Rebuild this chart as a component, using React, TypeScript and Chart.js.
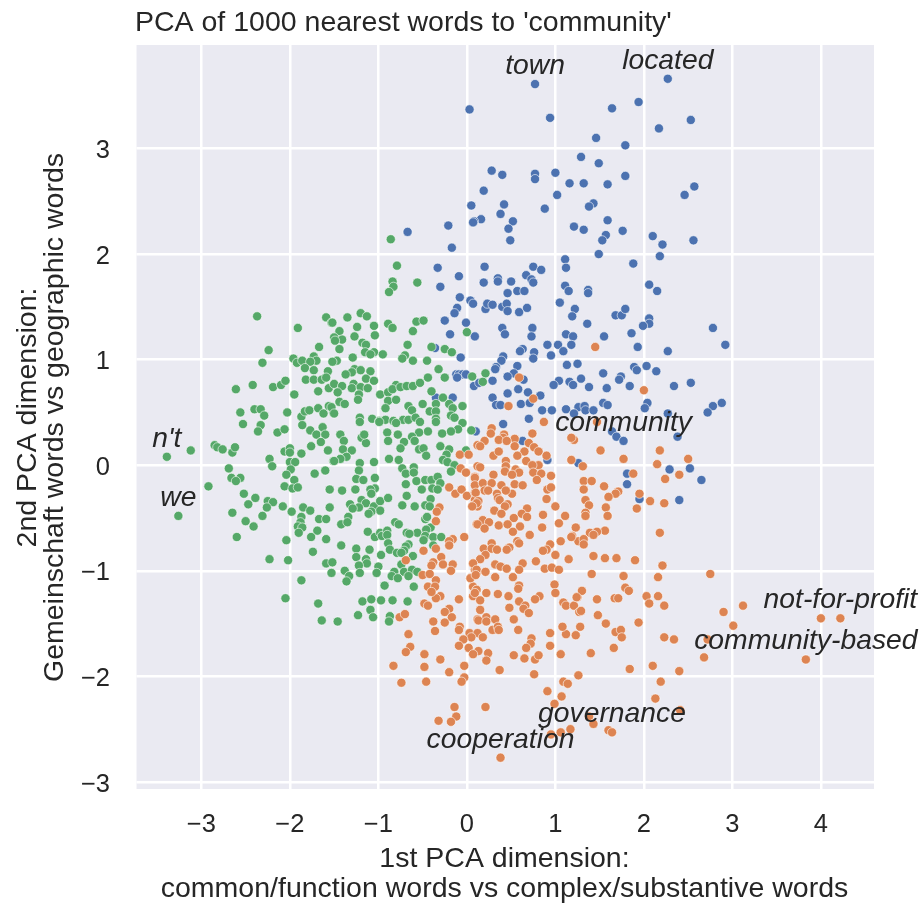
import React, { useEffect, useRef } from "react";
import { Chart, registerables } from "chart.js";

Chart.register(...registerables);

type P = [number, number];

const titleText = "PCA of 1000 nearest words to 'community'";
const xAxisTitle = ["1st PCA dimension:", "common/function words vs complex/substantive words"];
const yAxisTitle = ["2nd PCA dimension:", "Gemeinschaft words vs geographic words"];
const xTicks = [-3, -2, -1, 0, 1, 2, 3, 4];
const yTicks = [-3, -2, -1, 0, 1, 2, 3];

const wordLabels: { word: string; x: number; y: number }[] = [
  { word: "town", x: 0.77, y: 3.61 },
  { word: "located", x: 2.27, y: 3.66 },
  { word: "community", x: 1.77, y: 0.23 },
  { word: "n't", x: -3.39, y: 0.08 },
  { word: "we", x: -3.26, y: -0.48 },
  { word: "not-for-profit", x: 4.22, y: -1.45 },
  { word: "community-based", x: 3.83, y: -1.84 },
  { word: "governance", x: 1.64, y: -2.53 },
  { word: "cooperation", x: 0.38, y: -2.77 },
];

const bluePoints: P[] = [
  [0.77,3.61],[0.03,3.37],[0.94,3.29],[2.27,3.66],[1.94,3.44],[1.64,3.38],[2.53,3.27],[2.17,3.19],[1.46,3.10],[1.79,3.03],
  [1.29,2.92],[1.49,2.86],[0.28,2.79],[0.40,2.75],[0.77,2.76],[0.77,2.71],[1.0,2.77],[1.16,2.67],[1.32,2.67],[1.59,2.66],
  [1.79,2.74],[2.57,2.64],[2.46,2.56],[0.19,2.60],[1.02,2.56],[0.05,2.46],[0.42,2.47],[0.88,2.43],[1.43,2.48],[1.38,2.45],
  [0.38,2.38],[0.16,2.33],[0.08,2.31],[0.52,2.31],[0.47,2.24],[0.49,2.13],[1.21,2.26],[1.32,2.23],[1.59,2.32],[1.76,2.22],
  [1.57,2.18],[1.53,2.13],[2.10,2.17],[2.21,2.09],[2.56,2.13],[1.49,2.0],[2.18,1.98],[1.11,1.95],[1.88,1.91],
  [-0.67,2.21],[-0.21,2.27],[-0.17,2.06],[0.07,2.30],[-0.33,1.87],[-0.09,1.79],[-0.30,1.69],[-0.08,1.59],[0.04,1.56],[0.07,1.53],
  [-0.11,1.49],[-0.14,1.44],[-0.25,1.37],[-0.01,1.35],[-0.19,1.24],[0.09,1.22],[-0.36,1.11],[-0.07,1.02],[-0.12,0.86],[-0.09,0.86],
  [-0.05,0.86],[-0.01,0.86],[-0.11,0.83],[0.08,0.75],[-0.35,0.64],[-0.16,0.64],
  [1.12,1.87],[0.20,1.88],[0.75,1.88],[0.84,1.85],[0.67,1.80],[0.73,1.76],[0.75,1.73],[0.19,1.73],[0.35,1.77],[0.35,1.74],
  [0.50,1.74],[0.46,1.63],[0.57,1.65],[0.65,1.65],[1.11,1.70],[1.15,1.65],[1.37,1.66],[1.37,1.63],[2.06,1.71],[2.15,1.65],
  [1.05,1.54],[0.21,1.48],[0.23,1.53],[0.29,1.52],[0.40,1.50],[0.45,1.53],[0.46,1.46],[0.59,1.45],[0.68,1.49],[1.22,1.48],
  [1.19,1.41],[1.36,1.34],[1.68,1.42],[1.75,1.42],[1.79,1.48],[2.06,1.39],[2.06,1.34],[1.99,1.32],[0.40,1.30],[0.43,1.24],
  [0.74,1.30],[0.73,1.22],[1.12,1.24],[1.20,1.22],[1.55,1.22],[1.86,1.25],[2.78,1.30],[2.92,1.14],[1.18,1.14],[1.03,1.14],
  [0.91,1.14],[1.93,1.12],[1.09,1.08],[2.27,1.08],[0.95,1.04],[0.63,1.10],[0.60,1.08],[0.76,1.07],[0.75,1.01],[0.41,1.03],
  [0.39,0.99],[1.13,0.95],[1.25,0.96],[0.33,0.93],[0.32,0.91],[0.57,0.94],[0.53,0.87],[0.46,0.84],[0.64,0.81],[0.29,0.80],
  [0.14,0.78],[1.04,0.80],[0.98,0.76],[1.16,0.79],[1.20,0.76],[1.29,0.82],[1.38,0.74],[1.54,0.87],[1.74,0.84],[1.72,0.81],
  [1.58,0.73],[1.84,0.75],[1.89,0.93],[1.92,0.90],[2.03,0.94],[2.14,0.89],[2.34,0.75],[2.53,0.78],[0.58,0.72],[0.69,0.69],
  [0.46,0.68],[0.83,0.66],[0.29,0.64],[0.33,0.57],[0.38,0.57],[0.61,0.58],[0.71,0.59],[1.26,0.55],[1.33,0.56],[1.54,0.59],
  [1.59,0.57],[2.04,0.59],[2.01,0.54],[2.88,0.59],[2.78,0.56],[2.72,0.50],[2.27,0.49],[0.85,0.52],[0.96,0.52],[1.12,0.53],
  [1.34,0.52],[1.43,0.52],[1.21,0.49],[0.70,0.44],[0.41,0.39],[0.10,0.32],[0.63,0.23],[0.91,0.05],[1.26,0.02],[0.53,-0.08],
  [1.64,0.32],[1.69,0.27],[1.77,0.23],[2.38,0.27],[1.81,-0.08],[1.81,-0.18],[2.29,-0.04],[2.52,-0.03],[2.65,-0.14],[1.95,-0.32],[2.40,-0.33],
];

const greenPoints: P[] = [
  [-2.37,1.41],[-1.91,1.30],[-1.59,1.40],[-1.53,1.35],[-2.24,1.09],[-2.31,0.97],[-1.67,1.12],[-1.96,1.01],[-1.92,0.97],[-1.86,0.99],
  [-1.73,1.03],[-1.70,0.99],[-1.77,0.98],[-1.83,0.92],[-1.73,0.90],[-1.51,0.98],[-1.57,0.89],[-2.61,0.72],[-2.42,0.76],[-2.19,0.74],
  [-2.10,0.76],[-2.05,0.80],[-1.82,0.81],[-1.73,0.81],[-1.64,0.81],[-1.59,0.83],[-1.56,0.73],[-1.68,0.70],[-1.95,0.67],
  [-3.39,0.08],[-3.12,0.14],[-3.26,-0.48],[-2.92,-0.20],[-2.56,0.50],[-2.53,0.39],[-2.40,0.53],[-2.33,0.53],[-2.29,0.47],[-2.33,0.38],
  [-2.36,0.32],[-2.03,0.50],[-2.14,0.31],[-2.06,0.34],[-1.87,0.46],[-1.83,0.51],[-1.78,0.52],[-1.68,0.54],[-1.62,0.49],[-1.56,0.56],
  [-1.51,0.50],[-1.86,0.38],[-1.77,0.33],[-1.70,0.29],[-1.63,0.36],[-1.60,0.29],[-1.65,0.22],[-1.76,0.18],[-1.57,0.14],[-2.85,0.19],
  [-2.82,0.17],[-2.76,0.15],[-2.65,0.12],[-2.62,0.17],[-2.23,0.06],[-2.20,-0.01],[-2.69,-0.03],[-2.66,-0.12],[-2.56,-0.12],[-2.61,-0.15],
  [-2.06,0.13],[-2.0,0.16],[-2.0,0.12],[-1.87,0.11],[-2.0,0.03],[-1.94,0.03],[-1.99,-0.04],[-2.04,-0.09],[-1.95,-0.14],[-2.06,-0.20],
  [-1.97,-0.22],[-1.91,-0.21],[-1.72,-0.08],[-1.60,-0.05],[-1.51,0.04],[-1.55,-0.23],[-2.52,-0.27],[-2.39,-0.31],[-2.47,-0.37],[-2.25,-0.34],
  [-2.19,-0.35],[-2.26,-0.40],[-2.08,-0.39],[-1.98,-0.44],[-1.85,-0.40],[-1.77,-0.43],[-1.55,-0.40],[-2.65,-0.45],[-2.31,-0.48],[-2.50,-0.53],
  [-2.41,-0.58],[-1.87,-0.49],[-1.88,-0.54],[-1.91,-0.58],[-1.86,-0.59],[-1.90,-0.64],[-1.67,-0.51],[-1.59,-0.51],[-1.69,-0.62],[-1.76,-0.68],
  [-1.59,-0.70],[-2.60,-0.68],[-2.04,-0.71],[-1.74,-0.82],[-2.23,-0.89],[-2.02,-0.90],[-1.59,-0.93],[-1.52,-0.92],[-1.53,-1.02],[-1.87,-1.09],
  [-2.05,-1.26],[-1.68,-1.31],[-1.64,-1.47],
  [-0.86,2.14],[-0.79,1.89],[-0.84,1.74],[-0.83,1.69],[-0.88,1.64],[-0.56,1.73],[-1.52,1.35],[-1.35,1.40],[-1.20,1.44],[-1.13,1.41],
  [-1.24,1.31],[-1.05,1.32],[-1.04,1.23],[-1.27,1.22],[-1.44,1.27],[-1.50,1.21],[-1.41,1.19],[-1.49,1.18],[-1.44,1.10],[-1.18,1.16],
  [-1.14,1.14],[-1.15,1.07],[-1.05,1.07],[-1.09,1.05],[-0.95,1.05],[-1.29,1.02],[-1.47,0.99],[-1.52,0.98],[-0.89,1.34],[-0.84,1.30],
  [-0.57,1.36],[-0.49,1.37],[-0.61,1.27],[-0.67,1.14],[-0.40,1.12],[-0.25,1.10],[-0.17,1.07],[-0.70,1.04],[-0.73,1.01],[-0.61,0.99],
  [-0.45,0.99],[0.0,1.26],[-0.32,0.91],[-0.25,0.83],[-0.44,0.83],[0.06,0.84],[-1.27,0.91],[-1.20,0.90],[-1.30,0.88],[-1.37,0.86],
  [-1.09,0.89],[-1.14,0.82],[-1.05,0.80],[-1.28,0.77],[-1.30,0.73],[-1.20,0.74],[-1.12,0.73],[-1.22,0.67],[-1.23,0.62],[-1.50,0.77],
  [-1.41,0.75],[-1.46,0.69],[-1.44,0.60],[-1.38,0.58],[-1.53,0.55],[-1.50,0.49],[-0.98,0.67],[-0.89,0.69],[-0.80,0.76],[-0.84,0.72],
  [-0.75,0.74],[-0.68,0.75],[-0.61,0.75],[-0.53,0.78],[-0.89,0.61],[-0.80,0.62],[-0.92,0.54],[-0.66,0.56],[-0.62,0.52],[-0.50,0.58],
  [-0.40,0.70],[-0.35,0.58],[-0.27,0.64],[-0.20,0.58],[-0.16,0.54],[-0.05,0.56],[-0.42,0.51],[-0.35,0.51],[-1.21,0.45],[-1.07,0.44],
  [-0.99,0.42],[-0.92,0.43],[-0.72,0.43],[-0.66,0.43],[-0.58,0.45],[-0.35,0.44],[-0.18,0.47],[-0.14,0.45],[0.21,0.87],[0.18,0.79],
  [-1.21,0.41],[-0.99,0.41],[-0.83,0.42],[-0.80,0.40],[-0.53,0.41],[-0.35,0.41],[-0.05,0.40],[-0.10,0.34],[-0.18,0.32],[-0.28,0.30],
  [-0.44,0.32],[-0.54,0.31],[-0.62,0.27],[-0.59,0.23],[-0.78,0.29],[-0.90,0.31],[-0.89,0.23],[-0.71,0.22],[-0.75,0.16],[-0.54,0.15],
  [-0.49,0.16],[-0.46,0.09],[-0.30,0.18],[-0.20,0.15],[-0.23,0.10],[-0.27,0.05],[-0.22,0.03],[-0.14,0.0],[-0.18,-0.06],[-0.01,0.14],
  [0.05,0.33],[-1.43,0.29],[-1.39,0.23],[-1.19,0.26],[-1.14,0.21],[-1.16,0.29],[-1.40,0.15],[-1.30,0.14],[-1.36,0.08],[-1.43,0.06],
  [-1.50,0.04],[-1.21,0.02],[-1.05,0.03],[-0.88,0.06],[-0.77,0.05],[-1.22,-0.05],[-1.04,-0.12],[-1.25,-0.13],[-1.17,-0.14],[-1.26,-0.23],
  [-1.04,-0.22],[-1.09,-0.23],[-1.08,-0.27],[-1.41,-0.24],[-0.73,-0.03],[-0.69,-0.08],[-0.60,-0.02],[-0.60,-0.07],[-0.57,-0.15],[-0.47,-0.14],
  [-0.40,-0.14],[-0.33,-0.11],[-0.30,-0.17],[-0.69,-0.18],[-0.51,-0.23],[-0.39,-0.22],[-0.33,-0.23],[-0.68,-0.29],[-0.41,-0.32],[-0.47,-0.38],
  [-0.73,-0.38],[-0.59,-0.39],[-0.42,-0.39],[-1.32,-0.37],[-1.19,-0.33],[-1.14,-0.36],[-1.22,-0.40],[-1.29,-0.41],[-1.05,-0.39],[-0.98,-0.34],
  [-0.89,-0.31],[-0.98,-0.43],[-1.08,-0.44],[-1.11,-0.46],[-1.34,-0.49],[-1.42,-0.56],[-1.35,-0.54],[-0.47,-0.51],[-0.45,-0.49],[-0.81,-0.54],
  [-0.77,-0.56],[-1.12,-0.63],[-1.04,-0.68],[-0.98,-0.64],[-0.96,-0.67],[-0.90,-0.62],[-0.90,-0.66],[-0.41,-0.59],[-0.46,-0.61],[-0.56,-0.64],
  [-0.68,-0.64],[-0.65,-0.65],[-0.47,-0.67],[-0.38,-0.68],[-0.29,-0.68],[-0.49,-0.71],[-0.66,-0.75],[-0.69,-0.77],[-0.38,-0.76],[-0.89,-0.74],
  [-0.87,-0.80],[-0.79,-0.83],[-0.71,-0.81],[-0.74,-0.83],[-0.61,-0.86],[-1.42,-0.76],[-1.25,-0.79],[-1.10,-0.80],[-1.25,-0.87],[-1.14,-0.89],
  [-1.13,-0.93],[-0.97,-0.85],[-1.22,-0.95],[-1.0,-0.96],[-0.74,-0.94],[-1.38,-1.00],[-1.21,-1.02],[-1.02,-1.02],[-0.82,-1.01],[-0.71,-1.01],
  [-0.62,-0.99],[-1.33,-1.05],[-1.36,-1.10],[-0.85,-1.05],[-0.78,-1.07],[-0.66,-1.05],[-0.56,-1.01],[-0.93,-1.14],[-0.60,-1.15],[-1.18,-1.29],
  [-1.08,-1.27],[-0.97,-1.28],[-0.84,-1.28],[-0.67,-1.29],[-1.09,-1.37],[-1.23,-1.42],[-1.06,-1.44],[-0.87,-1.43],[-0.88,-1.48],[-1.46,-1.48],
];

const orangePoints: P[] = [
  [-0.08,0.10],[0.02,0.10],[0.12,0.19],[-0.07,-0.03],[-0.01,-0.07],[0.12,-0.01],[0.09,-0.11],[-0.20,-0.21],[-0.13,-0.27],[-0.06,-0.23],
  [0.0,-0.29],[0.09,-0.26],[0.09,-0.33],[0.08,-0.38],[0.12,-0.39],[-0.31,-0.40],[-0.34,-0.44],[-0.35,-0.53],[0.11,-0.56],[-0.03,-0.68],
  [-0.16,-0.70],[-0.20,-0.72],[-0.20,-0.76],[-0.69,-0.90],[-0.49,-0.81],[-0.35,-0.79],[-0.29,-0.87],[-0.38,-0.92],[-0.40,-0.95],[-0.27,-0.94],
  [-0.16,-0.94],[-0.18,-1.00],[0.07,-0.93],[0.09,-0.99],[-0.50,-1.04],[-0.42,-1.03],[-0.35,-1.09],[0.04,-1.07],[0.11,-1.02],[-0.44,-1.15],
  [-0.36,-1.15],[-0.30,-1.24],[-0.35,-1.26],[-0.40,-1.20],[-0.09,-1.27],[0.07,-1.15],[0.11,-1.18],[0.07,-1.24],[-0.48,-1.31],[-0.44,-1.33],
  [-0.20,-1.36],[-0.25,-1.39],[-0.17,-1.44],[-0.25,-1.49],[-0.38,-1.48],[-0.36,-1.57],[-0.76,-1.44],[-0.70,-1.41],[-0.66,-1.60],[-0.08,-1.53],
  [-0.09,-1.56],[0.03,-1.59],[0.12,-1.46],[0.12,-1.59],[0.05,-1.63],
  [1.45,1.12],[0.59,0.83],[0.75,0.63],[0.47,0.56],[2.0,0.71],[0.87,0.41],
  [0.28,0.35],[0.27,0.30],[0.42,0.29],[0.41,0.26],[0.54,0.25],[0.20,0.23],[0.15,0.18],[0.36,0.24],[0.45,0.23],[0.74,0.30],
  [0.70,0.21],[0.54,0.18],[0.76,0.17],[0.81,0.13],[0.65,0.13],[0.57,0.09],[0.30,0.09],[0.36,0.13],[0.90,0.09],[0.67,0.04],
  [0.44,0.04],[0.81,0.0],[0.74,0.0],[0.44,-0.01],[0.43,-0.06],[0.15,-0.02],[0.30,-0.09],[0.09,-0.12],[0.55,-0.04],[0.59,-0.07],
  [0.51,-0.09],[0.75,-0.07],[0.84,-0.08],[0.79,-0.14],[0.95,-0.10],[0.09,-0.19],[0.18,-0.17],[0.28,-0.17],[0.20,-0.24],[0.24,-0.24],
  [0.39,-0.19],[0.54,-0.18],[0.63,-0.19],[0.51,-0.27],[0.44,-0.24],[0.34,-0.27],[0.10,-0.26],[0.13,-0.34],[0.11,-0.36],[0.06,-0.39],
  [0.35,-0.31],[0.37,-0.33],[0.46,-0.37],[0.43,-0.39],[0.31,-0.43],[0.39,-0.46],[0.91,-0.23],[0.95,-0.21],[0.90,-0.32],[1.0,-0.39],
  [1.11,-0.48],[0.68,-0.41],[0.62,-0.46],[0.68,-0.49],[0.53,-0.50],[0.86,-0.47],[0.18,-0.52],[0.25,-0.54],[0.12,-0.56],[0.20,-0.60],
  [0.36,-0.57],[0.46,-0.56],[0.60,-0.58],[0.52,-0.63],[0.85,-0.59],[1.04,-0.55],[1.23,-0.59],[1.19,-0.67],[0.71,-0.66],[0.57,-0.72],
  [0.59,-0.74],[1.06,-0.72],[0.94,-0.75],[0.90,-0.80],[0.86,-0.81],[1.0,-0.85],[1.26,-0.72],[1.15,-0.89],[0.78,-0.91],[0.28,-0.74],
  [0.19,-0.79],[0.28,-0.79],[0.34,-0.80],[0.48,-0.78],[0.45,-0.80],[0.21,-0.85],[0.15,-0.89],[0.63,-0.93],[0.07,-0.93],[0.11,-0.99],
  [0.21,-1.01],[0.32,-0.94],[0.38,-0.96],[0.45,-0.98],[0.59,-0.99],[0.32,-1.06],[0.52,-1.06],[0.04,-1.07],[0.88,-0.98],[0.96,-0.97],
  [1.04,-0.99],[0.10,-1.04],[0.59,-1.14],[0.99,-1.13],[0.58,-1.17],[1.0,-1.21],[0.11,-1.18],[0.09,-1.21],[0.22,-1.21],[0.35,-1.22],
  [0.47,-1.24],[0.82,-1.24],[1.25,-1.25],[0.77,-1.27],[0.15,-1.28],
  [1.47,0.41],[1.21,0.24],[1.18,0.26],[1.51,0.14],[2.18,0.14],[1.77,0.06],[2.15,0.01],[2.50,0.06],[1.18,0.05],[1.31,-0.01],
  [1.88,-0.08],[2.40,-0.09],[2.24,-0.13],[1.32,-0.15],[1.41,-0.15],[1.55,-0.20],[1.32,-0.23],[1.71,-0.25],[1.68,-0.27],[1.60,-0.30],
  [1.95,-0.27],[2.07,-0.34],[2.23,-0.36],[1.34,-0.33],[1.38,-0.38],[1.57,-0.40],[1.92,-0.41],[1.34,-0.45],[1.34,-0.48],[1.59,-0.48],
  [1.56,-0.62],[1.47,-0.63],[1.39,-0.64],[1.43,-0.66],[2.18,-0.64],[1.18,-0.68],[1.32,-0.70],[1.32,-0.75],[1.43,-0.86],[1.56,-0.88],
  [1.69,-0.88],[1.90,-0.90],[2.21,-0.95],[1.41,-1.03],[1.77,-1.05],[2.16,-1.06],[2.75,-1.03],[1.30,-1.19],[1.47,-1.27],[1.67,-1.26],
  [1.71,-1.26],[1.79,-1.16],[1.83,-1.19],[2.03,-1.24],[2.16,-1.24],
  [-0.04,-1.65],[0.18,-1.63],[-0.09,-1.71],[0.02,-1.73],[0.13,-1.76],[0.07,-1.79],[0.24,-1.78],[0.22,-1.85],[-0.64,-1.72],[-0.69,-1.77],
  [-0.48,-1.79],[-0.30,-1.84],[-0.83,-1.90],[-0.48,-1.91],[-0.03,-1.90],[-0.20,-1.96],[-0.03,-2.01],[-0.06,-2.05],[-0.46,-2.05],[-0.74,-2.06],
  [0.37,-1.94],[0.76,-1.98],[0.15,-1.37],[0.22,-1.44],[0.13,-1.47],[0.22,-1.48],[0.32,-1.46],[0.29,-1.56],[0.35,-1.53],[0.36,-1.56],
  [0.53,-1.46],[0.58,-1.56],[0.94,-1.59],[1.12,-1.60],[1.08,-1.53],[1.23,-1.61],[0.73,-1.64],[0.72,-1.69],[0.67,-1.73],[0.94,-1.71],
  [0.53,-1.80],[0.65,-1.83],[0.77,-1.84],[0.81,-1.80],[1.06,-1.79],[1.26,-1.99],[1.09,-2.05],[1.14,-2.07],[0.91,-2.14],[1.07,-2.19],
  [0.99,-2.26],[-0.14,-2.29],[0.21,-2.29],[-0.12,-2.38],[-0.32,-2.42],[-0.18,-2.43],[1.06,-2.53],[1.17,-2.50],[0.95,-2.55],[0.38,-2.77],
  [0.48,-1.35],[0.59,-1.29],[0.66,-1.33],[0.64,-1.36],[0.70,-1.40],[1.09,-1.30],[1.12,-1.33],[1.21,-1.33],[1.24,-1.25],[1.27,-1.39],
  [1.29,-1.38],[2.06,-1.31],[2.23,-1.33],[2.90,-1.39],[3.12,-1.33],[3.01,-1.52],[4.0,-1.45],[4.22,-1.45],[2.72,-1.65],[2.68,-1.82],
  [3.83,-1.84],[1.48,-1.42],[1.57,-1.50],[1.28,-1.53],[1.94,-1.49],[1.68,-1.58],[1.74,-1.56],[1.75,-1.63],[1.66,-1.73],[1.40,-1.78],
  [2.23,-1.63],[2.34,-1.65],[1.84,-1.93],[2.10,-1.90],[2.40,-1.95],[2.19,-2.05],[2.13,-2.21],[2.41,-2.32],[1.38,-2.38],[1.43,-2.45],
  [1.60,-2.51],[1.64,-2.53],
];

const FONT = "'Liberation Sans', Arial, sans-serif";
const INK = "#262626";

const panelAndWords = {
  id: "panelAndWords",
  beforeDraw(chart: any) {
    const { ctx, chartArea: a } = chart;
    ctx.save();
    ctx.fillStyle = "#eaeaf2";
    ctx.fillRect(a.left, a.top, a.right - a.left, a.bottom - a.top);
    ctx.restore();
  },
  afterDraw(chart: any) {
    const { ctx, scales, chartArea: a } = chart;
    ctx.save();
    ctx.fillStyle = INK;
    ctx.textBaseline = "alphabetic";
    ctx.textAlign = "left";
    ctx.font = `28.5px ${FONT}`;
    ctx.fillText(titleText, a.left, a.top - 14);
    ctx.font = `italic 28.3px ${FONT}`;
    ctx.textAlign = "center";
    for (const l of wordLabels) {
      ctx.fillText(l.word, scales.x.getPixelForValue(l.x), scales.y.getPixelForValue(l.y) - 10);
    }
    ctx.restore();
  },
};

const series = (pts: P[], color: string) => ({
  data: pts.map(([x, y]) => ({ x, y })),
  backgroundColor: color,
  borderColor: "#ffffff",
  borderWidth: 0.6,
  pointRadius: 4.6,
});

export default function App() {
  const ref = useRef<HTMLCanvasElement>(null);
  useEffect(() => {
    const chart = new Chart(ref.current!, {
      type: "scatter",
      data: {
        datasets: [
          series(orangePoints, "#dd8452"),
          series(greenPoints, "#55a868"),
          series(bluePoints, "#4c72b0"),
        ],
      },
      plugins: [panelAndWords],
      options: {
        animation: false,
        responsive: false,
        layout: { padding: { left: 13, right: 49, top: 45, bottom: 0 } },
        plugins: {
          legend: { display: false },
          tooltip: { enabled: false },
          title: { display: false },
        },
        scales: {
          x: {
            type: "linear",
            min: -3.75,
            max: 4.6,
            afterBuildTicks: (s: any) => { s.ticks = xTicks.map((value) => ({ value })); },
            afterFit: (s: any) => { s.height = 115; },
            grid: { color: "#ffffff", lineWidth: 2.5, drawTicks: false },
            border: { color: "#ffffff", width: 2.5 },
            ticks: {
              color: INK,
              padding: 20,
              autoSkip: false,
              maxRotation: 0,
              font: { family: FONT, size: 25.5 },
              callback: (v: any) => String(v).replace("-", "\u2212"),
            },
            title: {
              display: true,
              text: xAxisTitle,
              color: INK,
              font: { family: FONT, size: 28.5, lineHeight: 1.08 },
              padding: { top: 3, bottom: 0 },
            },
          },
          y: {
            type: "linear",
            min: -3.076,
            max: 3.98,
            afterBuildTicks: (s: any) => { s.ticks = yTicks.map((value) => ({ value })); },
            afterFit: (s: any) => { s.width = 122; },
            grid: { color: "#ffffff", lineWidth: 2.5, drawTicks: false },
            border: { color: "#ffffff", width: 2.5 },
            ticks: {
              color: INK,
              padding: 25,
              labelOffset: 2.5,
              autoSkip: false,
              font: { family: FONT, size: 25.5 },
              callback: (v: any) => String(v).replace("-", "\u2212"),
            },
            title: {
              display: true,
              text: yAxisTitle,
              color: INK,
              font: { family: FONT, size: 28.5, lineHeight: 0.95 },
              padding: { top: 2, bottom: 4 },
            },
          },
        },
      },
    } as any);
    return () => chart.destroy();
  }, []);
  return (
    <div style={{ position: "absolute", left: 0, top: 0 }}>
      <canvas ref={ref} width={923} height={905} style={{ display: "block" }} />
    </div>
  );
}
